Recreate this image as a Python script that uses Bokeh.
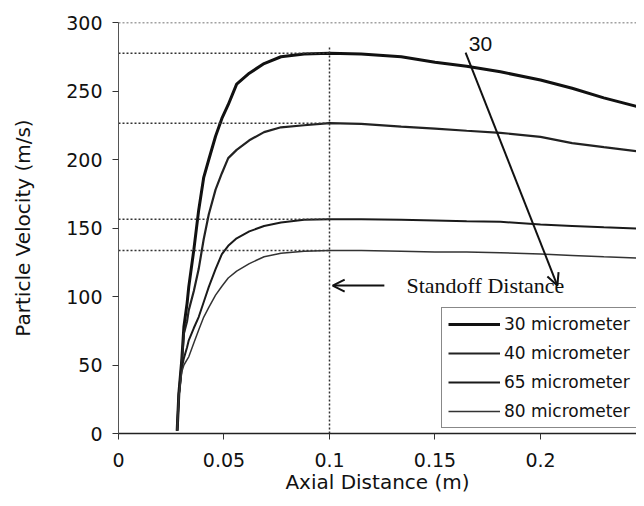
from bokeh.plotting import figure
from bokeh.models import Range1d, FixedTicker, Arrow, OpenHead, Label, Legend, LegendItem, Span
from bokeh.embed import file_html
from bokeh.resources import INLINE

# ---- data ----
x = [0.0278, 0.0286, 0.030, 0.031, 0.0325, 0.0333, 0.0357, 0.038, 0.0404, 0.0428,
     0.046, 0.049, 0.052, 0.056, 0.062, 0.069, 0.077, 0.088, 0.100, 0.115,
     0.134, 0.150, 0.165, 0.181, 0.200, 0.215, 0.230, 0.2488]
v30 = [2, 29, 54, 78, 95, 107, 134, 163, 187, 200,
       217, 230, 240, 255, 263, 270, 275, 277, 277.5, 277,
       275, 271, 268, 264, 258, 252, 245, 237.5]
v40 = [2, 29, 52, 73, 82, 90, 104, 120, 142, 160,
       178, 190, 201, 207, 214, 220, 223.5, 225, 226.5, 226,
       224, 222.5, 221, 219.5, 216.5, 212, 209, 205.5]
v65 = [2, 28, 48, 55, 63, 68, 77, 85, 96, 107,
       120, 131, 137, 142.5, 147.5, 151.5, 154, 156, 156.3, 156.3,
       156, 155.5, 155, 154.5, 152.5, 151.5, 150.5, 149.5]
v80 = [2, 27, 45, 50, 54, 56, 66, 75.5, 85, 92,
       101, 107.5, 113.5, 118.5, 124, 129, 131.5, 133, 133.5, 133.5,
       133, 132.5, 132.5, 132, 131, 130, 129, 128]
labels = ["30 micrometer", "40 micrometer", "65 micrometer", "80 micrometer"]
x_ticks = [0, 0.05, 0.1, 0.15, 0.2]
y_ticks = [0, 50, 100, 150, 200, 250, 300]
standoff = 0.1
standoff_top = 282
arrow30 = (0.1645, 278, 0.208, 108)
standoff_arrow = (0.126, 108, 0.1015, 108)

p = figure(width=636, height=498, output_backend="svg", toolbar_location=None,
           x_range=Range1d(0, 0.2455), y_range=Range1d(0, 300))
p.min_border_left = 118
p.min_border_right = 0
p.min_border_top = 22
p.min_border_bottom = 65
p.outline_line_color = None
p.xgrid.visible = False
p.ygrid.visible = False

FONT = "DejaVu Sans"
for ax in (p.xaxis[0], p.yaxis[0]):
    ax.major_label_text_font = FONT
    ax.major_label_text_font_size = "19px"
    ax.major_label_text_color = "#111111"
    ax.axis_label_text_font = FONT
    ax.axis_label_text_font_size = "20px"
    ax.axis_label_text_font_style = "normal"
    ax.axis_label_text_color = "#111111"
    ax.minor_tick_line_color = None
    ax.major_tick_in = 0
    ax.major_tick_out = 6
    ax.major_tick_line_color = "#333333"
p.xaxis.ticker = FixedTicker(ticks=x_ticks)
p.yaxis.ticker = FixedTicker(ticks=y_ticks)
p.xaxis.axis_label = "Axial Distance (m)"
p.yaxis.axis_label = "Particle Velocity (m/s)"
p.xaxis.axis_line_color = "#222222"
p.xaxis.axis_line_width = 1.5
p.yaxis.axis_line_color = "#555555"
p.yaxis.axis_line_width = 1
p.xaxis.major_label_standoff = 13
p.yaxis.major_label_standoff = 10
p.xaxis.axis_label_standoff = 0
p.yaxis.axis_label_standoff = 28

# top dotted border
p.add_layout(Span(location=300, dimension="width", line_color="#444444",
                  line_dash="2 2", line_width=1.5))

series = [v30, v40, v65, v80]
widths = [3, 2.2, 2, 1.5]
colors = ["#111111", "#222222", "#1a1a1a", "#333333"]
renderers = []
for vals, w, c in zip(series, widths, colors):
    r = p.line(x, vals, line_color=c, line_width=w)
    renderers.append(r)

# dotted reference lines at peak values
peaks = [max(v) for v in series]
p.segment(x0=[0] * len(peaks), y0=peaks, x1=[standoff] * len(peaks), y1=peaks,
          line_color="#333333", line_dash="2 2", line_width=1.5)
# standoff vertical
p.segment(x0=[standoff], y0=[0], x1=[standoff], y1=[standoff_top],
          line_color="#333333", line_dash="2 2", line_width=1.5)

# arrows
p.add_layout(Arrow(end=OpenHead(size=12, line_width=2, line_color="#111111"),
                   x_start=arrow30[0], y_start=arrow30[1], x_end=arrow30[2], y_end=arrow30[3],
                   line_width=2, line_color="#111111"))
p.add_layout(Arrow(end=OpenHead(size=12, line_width=2, line_color="#111111"),
                   x_start=standoff_arrow[0], y_start=standoff_arrow[1],
                   x_end=standoff_arrow[2], y_end=standoff_arrow[3],
                   line_width=2, line_color="#111111"))

p.add_layout(Label(x=0.166, y=279, text="30", text_font="Liberation Sans", text_font_size="21px",
                   text_color="#111111", text_baseline="bottom"))
p.add_layout(Label(x=0.1365, y=108, text="Standoff Distance", text_font="Liberation Serif",
                   text_font_size="22px", text_color="#111111", text_baseline="middle"))

legend = Legend(items=[LegendItem(label=l, renderers=[r]) for l, r in zip(labels, renderers)],
                location=(323, 5))
legend.label_text_font = FONT
legend.label_text_font_size = "17px"
legend.label_text_color = "#111111"
legend.border_line_color = "#111111"
legend.border_line_width = 1.5
legend.glyph_width = 52
legend.glyph_height = 20
legend.label_height = 20
legend.spacing = 9
legend.padding = 6
legend.label_standoff = 4
legend.background_fill_alpha = 1
p.add_layout(legend)

open("out.html", "w").write(file_html(p, INLINE))
